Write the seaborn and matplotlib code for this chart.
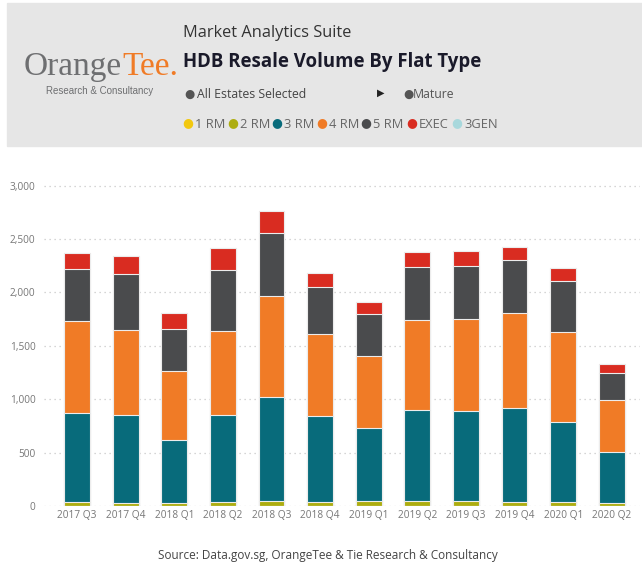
import pandas as pd
import numpy as np
import seaborn as sns
import matplotlib.pyplot as plt
from matplotlib.patches import Rectangle
from matplotlib.ticker import FuncFormatter

quarters = ['2017 Q3', '2017 Q4', '2018 Q1', '2018 Q2', '2018 Q3', '2018 Q4',
            '2019 Q1', '2019 Q2', '2019 Q3', '2019 Q4', '2020 Q1', '2020 Q2']
rm1 = [3, 2, 2, 3, 3, 2, 2, 3, 2, 2, 3, 1]
rm2 = [37, 29, 26, 37, 47, 35, 42, 41, 42, 35, 38, 27]
rm3 = [828, 824, 593, 809, 968, 809, 683, 855, 846, 884, 746, 478]
rm4 = [868, 797, 643, 790, 949, 768, 681, 843, 858, 890, 843, 484]
rm5 = [487, 518, 394, 568, 587, 434, 390, 493, 497, 493, 474, 256]
execu = [150, 168, 147, 213, 206, 131, 110, 144, 140, 125, 125, 84]
gen3 = [0, 0, 0, 0, 0, 0, 0, 0, 0, 0, 0, 0]

flat_types = ['1 RM', '2 RM', '3 RM', '4 RM', '5 RM', 'EXEC', '3GEN']
colors = ['#F2C80F', '#ADAD0F', '#086B7B', '#F07B26', '#4A4B4D', '#D92C21', '#A8D8DC']
y_ticks = [0, 500, 1000, 1500, 2000, 2500, 3000]

df = pd.DataFrame({'quarter': quarters, '1 RM': rm1, '2 RM': rm2, '3 RM': rm3,
                   '4 RM': rm4, '5 RM': rm5, 'EXEC': execu, '3GEN': gen3})
cum = df[flat_types].cumsum(axis=1)
cum['quarter'] = df['quarter']

sns.set_style('white')
plt.rcParams['font.family'] = ['Open Sans', 'DejaVu Sans']

fig = plt.figure(figsize=(6.42, 5.67), dpi=100)
W, H = 642, 567

def fx(x):
    return x / W

def fy(y):
    return 1 - y / H

# header panel
fig.patches.append(Rectangle((fx(7), fy(146)), fx(642 - 7), (146 - 3) / H,
                             transform=fig.transFigure, color='#e6e6e6', zorder=0))

# logo
fig.text(fx(122), fy(75), 'Orange', family='Liberation Serif', fontsize=24,
         color='#6e6f71', ha='right', va='baseline')
fig.text(fx(122), fy(75), 'Tee.', family='Liberation Serif', fontsize=24,
         color='#f07b26', ha='left', va='baseline')
fig.text(fx(100), fy(91), 'Research & Consultancy', family='Liberation Sans',
         fontsize=7, color='#6e6f71', ha='center', va='center')

fig.text(fx(183), fy(33), 'Market Analytics Suite', fontsize=11.8, color='#333333',
         va='center')
fig.text(fx(183), fy(62), 'HDB Resale Volume By Flat Type', fontsize=13.4,
         fontweight='bold', color='#1a1a2a', va='center')

# filter row
fig.text(fx(189), fy(94), '●', fontsize=8.5, color='#555555', ha='center', va='center')
fig.text(fx(197), fy(95), 'All Estates Selected', fontsize=8.8, color='#444444', va='center')
fig.text(fx(381), fy(93), '▶', fontsize=7, color='#222222', ha='center', va='center')
fig.text(fx(408), fy(94), '●', fontsize=8.5, color='#555555', ha='center', va='center')
fig.text(fx(413), fy(95), 'Mature', fontsize=8.8, color='#555555', va='center')

# legend row
dot_x = [188, 233, 277, 322, 366, 412, 457]
for x, name, c in zip(dot_x, flat_types, colors):
    fig.text(fx(x), fy(123), '●', fontsize=9, color=c, ha='center', va='center')
    fig.text(fx(x + 7), fy(124), name, fontsize=9.3, color='#666666', va='center')

# chart
ax = fig.add_axes([fx(44), fy(506), fx(640 - 44), (506 - 180) / H])
for name, c in reversed(list(zip(flat_types, colors))):
    sns.barplot(data=cum, x='quarter', y=name, color=c, saturation=1, width=0.53,
                edgecolor='#ececec', linewidth=0.8, ax=ax, zorder=3)

ax.set_xlim(-0.68, 11.58)
ax.set_ylim(0, 3053)
ax.set_yticks(y_ticks)
ax.yaxis.set_major_formatter(FuncFormatter(lambda v, p: f'{int(v):,}'))
ax.grid(axis='y', color='#c8c8c8', linestyle=(0, (1, 3)), linewidth=0.9, zorder=0)
ax.grid(axis='x', visible=False)
sns.despine(ax=ax, left=True, bottom=True)
ax.tick_params(axis='both', length=0, labelsize=7.3, colors='#777777')
ax.tick_params(axis='y', pad=6)
ax.tick_params(axis='x', pad=3)
ax.set_xlabel('')
ax.set_ylabel('')

fig.text(fx(328), fy(555), 'Source: Data.gov.sg, OrangeTee & Tie Research & Consultancy',
         fontsize=8.5, color='#444444', ha='center', va='center')

fig.savefig('out.png', dpi=100)
